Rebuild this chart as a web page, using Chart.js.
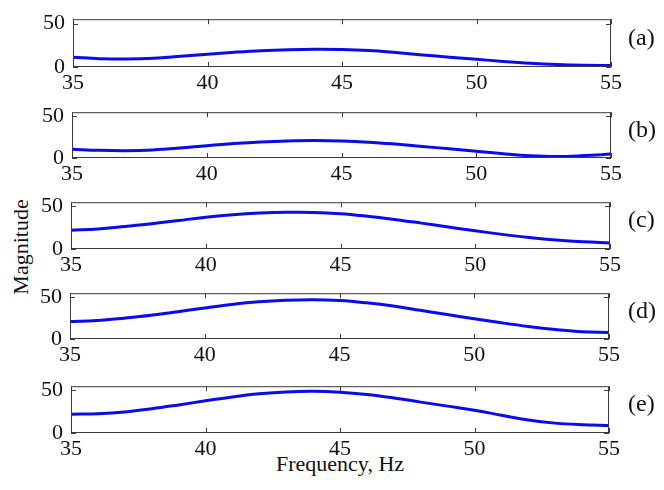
<!DOCTYPE html>
<html>
<head>
<meta charset="utf-8">
<script src="https://cdn.jsdelivr.net/npm/chart.js@4/dist/chart.umd.min.js"></script>
<style>
    body { margin: 0; background: #fff; width: 664px; height: 490px; position: relative; overflow: hidden; }
    canvas { position: absolute; left: 0; }
    .lbl { position: absolute; font-family: "Liberation Serif", serif; font-size: 22px; color: #111; white-space: nowrap; }
    .tag { font-size: 24px; }
</style>
</head>
<body>
<div class="lbl" id="ylabel" style="left:21px; top:247px; transform: translate(-50%, -50%) rotate(-90deg);">Magnitude</div>
<div class="lbl" style="left:340px; top:464px; transform: translate(-50%, -50%);">Frequency, Hz</div>

<script>
// frequency axis (Hz)
const freq = [35, 36, 37, 38, 39, 40, 41, 42, 43, 44, 45, 46, 47, 48, 49, 50, 51, 52, 53, 54, 55];
const xTicks = [35, 40, 45, 50, 55];
const yTicks = [0, 50];
const panelNames = ['(a)', '(b)', '(c)', '(d)', '(e)'];

// magnitude cho tung panel
const magA = [11.3, 9.6, 9.1, 10.0, 12.3, 14.8, 17.0, 18.8, 19.9, 20.4, 20.1, 18.9, 16.6, 13.9, 11.3, 8.9, 6.4, 4.3, 2.8, 2.0, 1.8];
const magB = [10.5, 9.2, 8.8, 9.7, 11.9, 14.8, 17.3, 19.2, 20.4, 20.9, 20.4, 19.0, 16.7, 13.9, 11.0, 8.1, 5.1, 2.7, 1.8, 2.9, 4.7];
const magC = [22.0, 23.5, 26.4, 29.6, 33.5, 37.3, 40.3, 42.2, 43.1, 43.0, 41.5, 38.5, 34.8, 30.4, 25.8, 21.4, 17.2, 13.5, 10.5, 8.4, 7.1];
const magD = [21.0, 22.2, 25.0, 28.4, 32.8, 37.3, 41.4, 44.6, 46.5, 47.2, 46.2, 43.4, 39.5, 34.4, 29.3, 24.3, 19.5, 15.1, 11.4, 8.6, 7.9];
const magE = [22.0, 22.7, 24.8, 28.5, 33.0, 37.8, 42.4, 46.0, 48.3, 49.0, 48.0, 45.3, 41.2, 36.3, 31.6, 26.8, 20.9, 15.2, 11.6, 9.8, 8.9];
const allMags = [magA, magB, magC, magD, magE];

// vi tri khung cua tung panel tren trang
const boxes = [
    { top: 10,  bottom: 67,  left: 73, right: 611 },
    { top: 103, bottom: 158, left: 72, right: 611 },
    { top: 193, bottom: 249, left: 71, right: 610 },
    { top: 284, bottom: 339, left: 70, right: 609 },
    { top: 377, bottom: 433, left: 71, right: 609 }
];

const FONT = { family: '"Liberation Serif", serif', size: 22 };
const PAD_TOP = 12;
const X_AXIS_H = 30;

// ve khung + tick huong vao trong (kieu matlab)
const boxPlugin = {
    id: 'box',
    afterDraw(chart) {
        const ctx = chart.ctx;
        const a = chart.chartArea;
        const xs = chart.scales.x, ys = chart.scales.y;
        ctx.save();
        ctx.strokeStyle = '#3a3a3a';
        ctx.lineWidth = 1;
        ctx.strokeRect(a.left + 0.5, a.top + 0.5, a.right - a.left - 1, a.bottom - a.top - 1);
        const tl = 5;
        ctx.beginPath();
        xTicks.forEach(v => {
            const px = Math.round(xs.getPixelForValue(v)) + 0.5;
            ctx.moveTo(px, a.bottom); ctx.lineTo(px, a.bottom - tl);
            ctx.moveTo(px, a.top); ctx.lineTo(px, a.top + tl);
        });
        yTicks.forEach(v => {
            const py = Math.round(ys.getPixelForValue(v)) + 0.5;
            ctx.moveTo(a.left, py); ctx.lineTo(a.left + tl, py);
            ctx.moveTo(a.right, py); ctx.lineTo(a.right - tl, py);
        });
        ctx.stroke();
        ctx.restore();
    }
};

function makePanel(i) {
    const b = boxes[i];
    const canvas = document.createElement('canvas');
    const h = b.bottom - b.top + PAD_TOP + X_AXIS_H;
    canvas.style.top = (b.top - PAD_TOP) + 'px';
    canvas.style.width = '664px';
    canvas.style.height = h + 'px';
    canvas.width = 664;
    canvas.height = h;
    document.body.appendChild(canvas);

    const tag = document.createElement('div');
    tag.className = 'lbl tag';
    tag.textContent = panelNames[i];
    tag.style.left = '628px';
    tag.style.top = ((b.top + b.bottom) / 2 - 2) + 'px';
    tag.style.transform = 'translateY(-50%)';
    document.body.appendChild(tag);

    new Chart(canvas, {
        type: 'line',
        data: {
            datasets: [{
                data: freq.map((f, k) => ({ x: f, y: allMags[i][k] })),
                borderColor: '#0a0af0',
                borderWidth: 3,
                pointRadius: 0,
                tension: 0.4,
                fill: false
            }]
        },
        options: {
            responsive: false,
            animation: false,
            events: [],
            layout: { padding: { top: PAD_TOP, right: 664 - b.right, left: 0, bottom: 0 } },
            plugins: { legend: { display: false }, tooltip: { enabled: false } },
            scales: {
                x: {
                    type: 'linear',
                    min: 35, max: 55,
                    afterBuildTicks: s => { s.ticks = xTicks.map(v => ({ value: v })); },
                    afterFit: s => { s.height = X_AXIS_H; },
                    grid: { display: false, drawTicks: false },
                    border: { display: false },
                    ticks: { font: FONT, color: '#111', padding: 3, maxRotation: 0, autoSkip: false }
                },
                y: {
                    min: 0, max: 55,
                    afterBuildTicks: s => { s.ticks = yTicks.map(v => ({ value: v })); },
                    afterFit: s => { s.width = b.left; },
                    grid: { display: false, drawTicks: false },
                    border: { display: false },
                    ticks: { font: FONT, color: '#111', padding: 8 }
                }
            }
        },
        plugins: [boxPlugin]
    });
}

// doi font serif san sang roi moi ve
document.fonts.load('22px "Liberation Serif"').then(() => {
    for (let i = 0; i < boxes.length; i++) makePanel(i);
});
</script>
</body>
</html>
